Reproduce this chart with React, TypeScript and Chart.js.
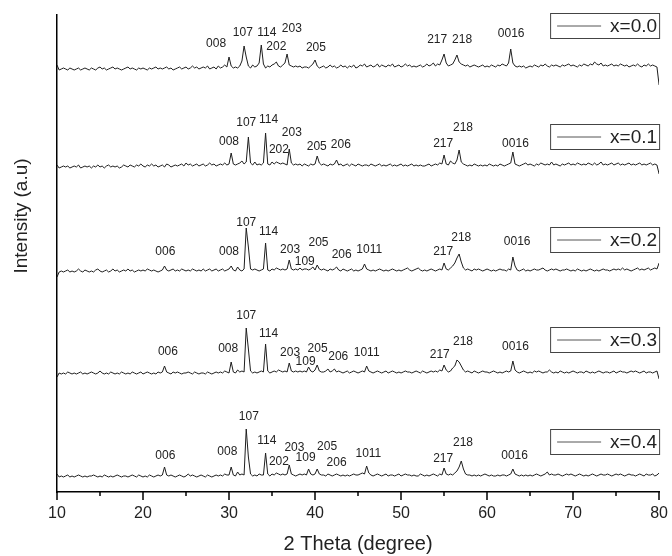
import React, { useEffect, useRef } from 'react';
import { Chart, registerables } from 'chart.js';
Chart.register(...registerables);

const seriesNames = ['x=0.0', 'x=0.1', 'x=0.2', 'x=0.3', 'x=0.4'];
const thetaStart = 10;
const thetaStep = 0.25;
const xTicks = [10, 20, 30, 40, 50, 60, 70, 80];
const xMinorTicks = [15, 25, 35, 45, 55, 65, 75];

// intensity above each pattern's own baseline, one value per 0.25 degree (10 .. 80)
const s00 = [
  4,-1,0,1, 0,-1,1,0, -1,0,1,-1, 0,1,0,-1, 1,0,-1,1,
  2,0,1,-1, 0,1,2,0, 1,0,-1,0, 1,2,0,1, 0,-1,1,0,
  1,0,-1,1, 0,1,2,0, 1,0,1,2, 0,1,-1,0, 1,2,0,1,
  2,0,1,3, 1,2,0,1, 2,1,3,0, 1,2,0,3, 1,2,4,2,
  12,3,1,2, 1,3,8,23, 12,3,1,4, 2,3,6,24, 5,1,3,2,
  4,5,7,3, 2,4,6,15, 4,3,2,3, 2,3,1,2, 2,1,3,5,
  9,3,1,2, 3,1,2,4, 2,3,1,2, 4,2,3,1, 3,2,4,1,
  2,4,3,5, 2,3,4,2, 3,5,2,4, 3,2,4,3, 5,2,3,4,
  2,3,5,3, 4,2,3,2, 3,4,2,3, 5,3,4,6, 3,5,4,9,
  15,6,3,4, 5,9,14,7, 5,4,3,4, 2,3,4,3, 2,3,4,2,
  3,2,4,3, 2,4,3,5, 4,3,6,20, 6,3,2,3, 2,3,1,2,
  3,2,4,3, 2,4,3,5, 3,2,4,3, 4,3,2,4, 3,4,5,3,
  4,3,2,4, 3,5,4,3, 5,4,7,5, 4,6,3,4, 3,4,5,3,
  4,3,5,4, 3,4,2,3, 4,3,5,3, 2,4,3,5, 3,4,3,2,
  -16,
];
const s01 = [
  2,-1,0,1, 0,1,-1,0, 1,0,2,-1, 0,1,0,1, -1,1,0,2,
  0,1,-1,1, 2,0,1,0, 1,-1,0,2, 1,0,2,1, 0,2,1,3,
  1,0,2,1, 3,1,2,0, 1,2,0,3, 2,0,1,2, 1,2,3,1,
  4,2,3,1, 2,3,1,2, 3,1,2,4, 2,3,1,2, 3,2,4,2,
  3,14,3,2, 3,4,6,3, 5,30,4,2, 5,2,3,2, 4,34,3,2,
  5,3,5,4, 3,4,3,2, 18,4,2,3, 2,3,1,3, 2,1,3,2,
  3,11,4,2, 3,2,1,3, 2,3,7,2, 3,1,2,3, 1,3,2,1,
  3,2,1,2, 2,1,3,2, 1,2,3,1, 2,1,2,3, 1,2,1,2,
  3,1,2,1, 2,3,1,2, 1,2,1,1, 2,3,1,2, 3,2,4,3,
  12,3,2,6, 4,3,7,17, 5,3,2,1, 2,1,3,2, 1,2,1,2,
  1,3,2,1, 2,1,3,2, 1,2,3,4, 15,3,2,1, 2,3,4,2,
  3,2,1,3, 2,4,3,2, 3,2,5,2, 3,2,1,3, 2,3,4,2,
  3,2,4,3, 2,3,2,4, 3,2,4,2, 3,5,2,3, 2,3,4,2,
  3,4,2,3, 2,3,4,2, 3,2,3,4, 2,3,2,3, 4,2,3,2,
  -7,
];
const s02 = [
  -5,0,1,0, 1,2,0,1, 0,1,3,1, 0,2,1,0, 1,0,2,3,
  1,0,1,2, 0,1,3,1, 2,0,1,2, 1,3,1,2, 0,1,2,1,
  2,1,3,2, 1,2,1,0, 1,2,6,2, 1,2,3,1, 2,1,3,2,
  1,2,1,3, 2,1,2,1, 3,1,2,3, 1,2,3,1, 2,3,1,2,
  3,6,2,1, 5,2,1,3, 44,25,3,2, 3,2,1,2, 3,29,2,1,
  3,2,4,3, 2,3,2,3, 12,3,2,3, 2,4,2,3, 3,2,3,5,
  2,7,3,2, 3,2,1,3, 2,3,5,2, 1,3,2,1, 2,3,1,2,
  1,2,3,8, 3,2,1,2, 1,2,3,2, 1,2,1,2, 3,2,1,2,
  1,2,3,4, 2,1,2,3, 4,2,1,2, 1,2,3,2, 1,2,3,2,
  9,3,2,4, 6,9,14,18, 10,4,2,3, 2,1,3,2, 3,2,1,2,
  3,2,1,2, 1,2,3,2, 2,1,3,2, 15,6,2,1, 2,3,1,2,
  1,2,3,2, 2,3,4,2, 1,2,3,2, 3,2,1,2, 2,3,2,1,
  2,1,3,2, 1,2,1,2, 3,2,1,2, 1,2,3,2, 2,1,2,3,
  2,3,2,4, 2,3,2,1, 2,3,4,2, 3,2,3,4, 2,3,4,3,
  9,
];
const s03 = [
  -3,1,0,1, 0,2,1,0, 1,0,1,2, 0,1,0,1, 2,1,0,1,
  3,1,0,1, 0,2,1,0, 1,0,2,1, 0,1,0,2, 1,0,1,2,
  0,1,2,1, 0,1,0,2, 1,2,8,2, 1,0,2,1, 2,1,0,1,
  1,2,1,0, 2,1,0,1, 1,0,2,1, 0,1,2,1, 2,1,3,2,
  1,12,2,1, 4,2,3,2, 46,25,3,1, 2,1,2,3, 2,30,3,1,
  2,3,2,4, 3,2,3,2, 11,3,2,3, 2,3,2,3, 2,7,3,2,
  4,9,3,2, 2,3,5,2, 3,5,2,3, 2,1,2,3, 1,2,3,2,
  1,2,3,2, 8,3,2,1, 2,3,2,1, 2,3,1,2, 3,2,1,2,
  1,2,3,2, 2,1,2,3, 2,1,3,2, 1,2,3,2, 3,2,4,3,
  9,4,2,3, 6,8,14,12, 8,4,2,3, 2,1,3,2, 1,2,3,2,
  2,1,2,3, 2,1,2,1, 2,3,2,3, 13,4,2,1, 2,3,2,1,
  2,1,3,2, 3,2,1,2, 2,4,2,1, 2,1,3,2, 1,2,1,2,
  3,2,1,2, 2,1,3,2, 1,2,1,2, 3,2,1,2, 2,1,2,3,
  1,2,3,2, 2,1,2,3, 2,3,2,1, 2,3,1,2, 2,1,2,3,
  -5,
];
const s04 = [
  3,0,1,0, 1,2,0,1, 0,1,2,1, 0,1,0,1, 1,2,1,0,
  1,0,2,1, 0,1,0,1, 2,1,0,1, 1,0,1,2, 1,0,2,1,
  0,1,0,2, 1,0,1,2, 1,2,10,2, 1,2,1,0, 1,2,1,0,
  1,3,1,2, 1,0,1,2, 1,0,2,1, 0,1,2,1, 2,1,3,2,
  2,10,2,1, 5,2,3,2, 48,20,3,1, 2,1,3,2, 2,24,3,1,
  3,2,4,3, 2,3,2,3, 12,3,2,1, 2,3,2,3, 2,8,3,2,
  3,8,3,2, 2,1,3,2, 1,2,3,2, 1,2,1,2, 1,2,3,2,
  2,3,4,3, 11,4,2,1, 2,3,2,1, 2,3,1,2, 2,1,2,3,
  1,2,3,2, 2,1,2,1, 1,3,2,1, 2,1,2,3, 2,1,3,2,
  9,3,2,3, 2,4,6,10, 16,8,3,2, 2,1,2,1, 2,1,2,3,
  2,1,2,1, 1,2,1,2, 2,1,2,3, 8,3,2,1, 2,1,2,1,
  2,1,2,3, 2,1,2,3, 5,2,3,2, 2,3,2,1, 2,3,2,3,
  2,1,2,3, 2,1,2,1, 2,3,2,1, 2,3,2,2, 3,2,1,2,
  3,2,3,2, 1,2,3,2, 2,1,2,3, 2,1,3,2, 2,3,1,2,
  4,
];
const seriesValues = [s00, s01, s02, s03, s04];
// vertical stacking offset of each pattern
const offsets = [423, 325, 220, 118, 15];

// peak indices: [label, 2θ, height on the stacked intensity axis]
type Lbl = [string, number, number];
const labels00: Lbl[] = [['008', 28.5, 448], ['107', 31.6, 459], ['114', 34.4, 459], ['202', 35.5, 445], ['203', 37.3, 463], ['205', 40.1, 444], ['217', 54.2, 452], ['218', 57.1, 452], ['0016', 62.8, 458]];
const labels01: Lbl[] = [['008', 30.0, 350], ['107', 32.0, 369], ['114', 34.6, 372], ['202', 35.8, 342], ['203', 37.3, 359], ['205', 40.2, 345], ['206', 43.0, 347], ['217', 54.9, 348], ['218', 57.2, 364], ['0016', 63.3, 348]];
const labels02: Lbl[] = [['006', 22.6, 240], ['008', 30.0, 240], ['107', 32.0, 269], ['114', 34.6, 260], ['203', 37.1, 242], ['109', 38.8, 230], ['205', 40.4, 249], ['206', 43.1, 237], ['1011', 46.3, 242], ['217', 54.9, 240], ['218', 57.0, 254], ['0016', 63.5, 250]];
const labels03: Lbl[] = [['006', 22.9, 140], ['008', 29.9, 143], ['107', 32.0, 176], ['114', 34.6, 158], ['203', 37.1, 139], ['109', 38.9, 130], ['205', 40.3, 143], ['206', 42.7, 135], ['1011', 46.0, 139], ['217', 54.5, 137], ['218', 57.2, 150], ['0016', 63.3, 145]];
const labels04: Lbl[] = [['006', 22.6, 36], ['008', 29.8, 40], ['107', 32.3, 75], ['114', 34.4, 51], ['202', 35.8, 30], ['203', 37.6, 44], ['109', 38.9, 34], ['205', 41.4, 45], ['206', 42.5, 29], ['1011', 46.2, 38], ['217', 54.9, 33], ['218', 57.2, 49], ['0016', 63.2, 36]];
const allLabels = [labels00, labels01, labels02, labels03, labels04];

const FONT = "'Liberation Sans', Arial, Helvetica, sans-serif";
const TEXT = '#222';

const overlayPlugin = {
  id: 'overlay',
  afterDraw(chart: any) {
    const { ctx, chartArea } = chart;
    const xs = chart.scales.x;
    const ys = chart.scales.y;
    ctx.save();
    // minor + major tick marks
    ctx.strokeStyle = '#000';
    ctx.lineWidth = 1.5;
    const yb = chartArea.bottom;
    xTicks.forEach((v) => {
      const px = Math.round(xs.getPixelForValue(v));
      ctx.beginPath(); ctx.moveTo(px, yb); ctx.lineTo(px, yb + 8); ctx.stroke();
    });
    xMinorTicks.forEach((v) => {
      const px = Math.round(xs.getPixelForValue(v));
      ctx.beginPath(); ctx.moveTo(px, yb); ctx.lineTo(px, yb + 4); ctx.stroke();
    });
    // peak labels
    ctx.fillStyle = TEXT;
    ctx.font = `12px ${FONT}`;
    ctx.textAlign = 'center';
    ctx.textBaseline = 'middle';
    allLabels.forEach((arr) => arr.forEach(([t, xv, yv]) => {
      ctx.fillText(t, xs.getPixelForValue(xv), ys.getPixelForValue(yv));
    }));
    // y title
    ctx.save();
    ctx.translate(22, 216);
    ctx.rotate(-Math.PI / 2);
    ctx.font = `19px ${FONT}`;
    ctx.fillText('Intensity (a.u)', 0, 0);
    ctx.restore();
    // legend boxes
    const tops = [13, 124, 227, 327, 429];
    const right = chartArea.right;
    tops.forEach((top, i) => {
      const left = right - 109;
      const h = 25;
      ctx.strokeStyle = '#444';
      ctx.lineWidth = 1;
      ctx.strokeRect(left + 0.5, top + 0.5, 109, h);
      ctx.strokeStyle = '#555';
      ctx.beginPath();
      ctx.moveTo(left + 7, top + h / 2 + 0.5);
      ctx.lineTo(left + 51, top + h / 2 + 0.5);
      ctx.stroke();
      ctx.fillStyle = TEXT;
      ctx.font = `19px ${FONT}`;
      ctx.textAlign = 'right';
      ctx.textBaseline = 'middle';
      ctx.fillText(seriesNames[i], right - 2, top + h / 2 + 1);
    });
    ctx.restore();
  },
};

export default function App() {
  const ref = useRef<HTMLCanvasElement | null>(null);
  useEffect(() => {
    if (!ref.current) return;
    const datasets = seriesValues.map((vals, si) => ({
      label: seriesNames[si],
      data: vals.map((v, i) => ({ x: thetaStart + i * thetaStep, y: v + offsets[si] })),
      borderColor: '#1e1e1e',
      borderWidth: 1,
      pointRadius: 0,
      tension: 0,
      fill: false,
    }));
    const chart = new Chart(ref.current, {
      type: 'line',
      data: { datasets },
      options: {
        responsive: false,
        animation: false,
        layout: { padding: { left: 57, right: 10, top: 15, bottom: 0 } },
        plugins: { legend: { display: false }, tooltip: { enabled: false } },
        scales: {
          x: {
            type: 'linear',
            min: 10,
            max: 80,
            afterBuildTicks: (s: any) => { s.ticks = xTicks.map((v) => ({ value: v })); },
            ticks: { font: { family: FONT, size: 16 }, color: TEXT, padding: 4, maxRotation: 0, autoSkip: false },
            grid: { display: false, drawTicks: true, tickLength: 8 },
            border: { display: true, color: '#000', width: 1.5 },
            title: { display: true, text: '2 Theta (degree)', font: { family: FONT, size: 20 }, color: TEXT, padding: { top: 0, bottom: 0 } },
            afterFit: (s: any) => { s.height = 64; },
          },
          y: {
            type: 'linear',
            min: 0,
            max: 477,
            ticks: { display: false },
            grid: { display: false, drawTicks: false },
            border: { display: true, color: '#000', width: 1.5 },
            afterFit: (s: any) => { s.width = 0; },
          },
        },
      },
      plugins: [overlayPlugin],
    } as any);
    return () => chart.destroy();
  }, []);
  return (
    <div style={{ position: 'absolute', left: 0, top: 0, width: 672, height: 556, background: '#fff' }}>
      <canvas ref={ref} width={672} height={556} style={{ display: 'block' }} />
    </div>
  );
}
